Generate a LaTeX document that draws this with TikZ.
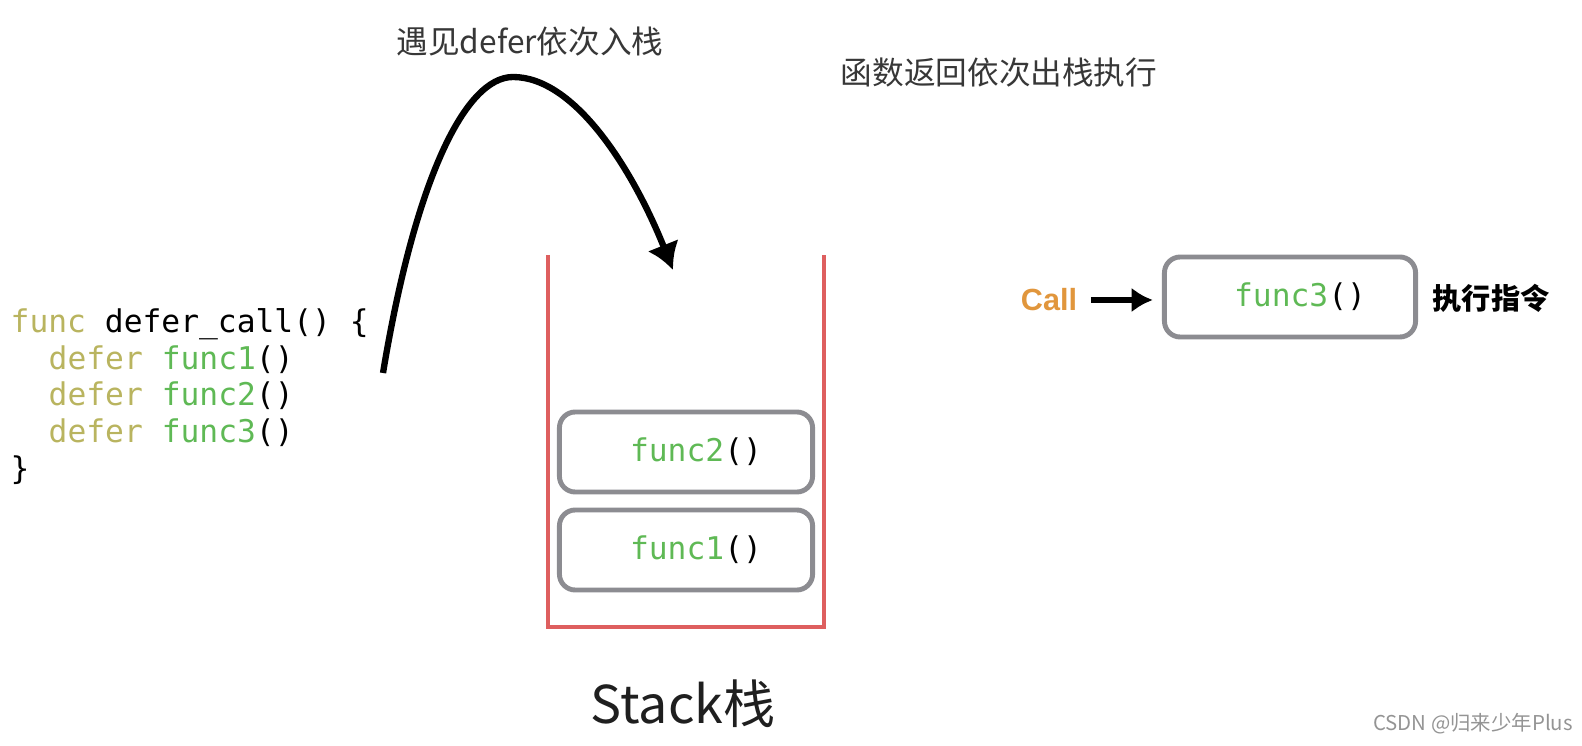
\documentclass[tikz,border=0pt]{standalone}
\usepackage{fontspec}
\setmonofont{DejaVu Sans Mono}
\newfontfamily\cjk{Noto Sans CJK SC}
\newfontfamily\callfont{Liberation Sans}
\usetikzlibrary{arrows.meta}

\definecolor{kwolive}{RGB}{185,180,95}
\definecolor{fngreen}{RGB}{95,185,85}
\definecolor{stackred}{RGB}{222,95,95}
\definecolor{boxgray}{RGB}{140,140,145}
\definecolor{callorange}{RGB}{225,150,60}
\definecolor{notegray}{RGB}{55,55,55}

\tikzset{
  code/.style={font=\ttfamily\fontsize{8.9}{10}\selectfont, anchor=base west, inner sep=0pt},
  frame/.style={draw=boxgray, line width=1.4pt, rounded corners=4.5pt,
    minimum width=2.53cm, minimum height=0.8cm, font=\ttfamily\fontsize{8.9}{10}\selectfont},
  note/.style={font=\cjk\fontsize{9}{11}\selectfont, text=notegray, inner sep=0pt},
  push/.style={line width=1.8pt, -{Latex[length=7.5pt,width=9.5pt]}},
}

\begin{document}
\begin{tikzpicture}[x=0.01cm,y=-0.01cm]
\useasboundingbox (0,0) rectangle (1582,746);

% code
\node[code] (l1) at (10,333) {\textcolor{kwolive}{func} defer\char95 call() \{};
\node[code] (l2) at (48,369.5) {\textcolor{kwolive}{defer} \textcolor{fngreen}{func1}()};
\node[code] (l3) at (48,406) {\textcolor{kwolive}{defer} \textcolor{fngreen}{func2}()};
\node[code] (l4) at (48,442.5) {\textcolor{kwolive}{defer} \textcolor{fngreen}{func3}()};
\node[code] (l5) at (10,479) {\}};

% push arrow
\coordinate (push start) at (383,373);
\coordinate (push end) at (673,270);
\draw[push] (push start) .. controls (415,180) and (465,77) .. (513,77)
  .. controls (575,77) and (633,170) .. (push end);
\node[note] (pushnote) at (530,42) {遇见defer依次入栈};
\node[note] (popnote) at (999,73) {函数返回依次出栈执行};

% stack
\draw[stackred, line width=1.4pt] (548,255) -- (548,627) -- (824,627) -- (824,255);
\node[frame] (f2) at (686,452) {\hspace*{0.2cm}\textcolor{fngreen}{func2}()};
\node[frame] (f1) at (686,550) {\hspace*{0.2cm}\textcolor{fngreen}{func1}()};
\node[font=\cjk\fontsize{14.8}{16}\selectfont, text=black!88, inner sep=0pt] (stacklabel) at (683,704) {Stack栈};

% call
\node[frame, minimum width=2.51cm] (f3) at (1290,297) {\hspace*{0.2cm}\textcolor{fngreen}{func3}()};
\node[font=\callfont\bfseries\fontsize{8.7}{10}\selectfont, text=callorange, inner sep=0pt] (call) at (1049,300) {Call};
\draw[line width=1.6pt, -{Latex[length=6pt,width=7pt]}, shorten <=3.7pt, shorten >=2.6pt]
  (call.east) -- (call.east -| f3.west);
\node[font=\cjk\bfseries\fontsize{8.3}{10}\selectfont, inner sep=0pt] (exec) at (1491,298) {执行指令};

\node[font=\cjk\fontsize{5.8}{7}\selectfont, text=black!42, inner sep=0pt] (mark) at (1473,724) {CSDN @归来少年Plus};
\end{tikzpicture}
\end{document}
